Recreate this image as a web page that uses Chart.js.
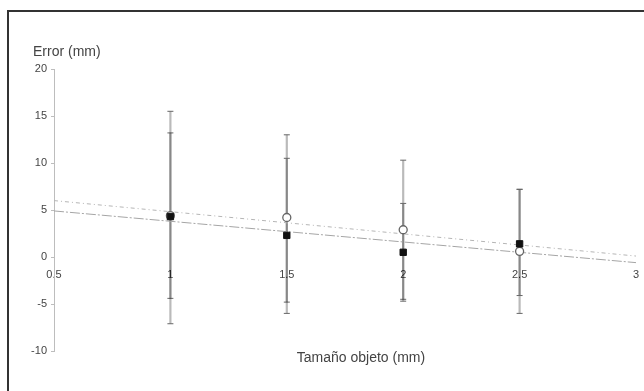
<!DOCTYPE html>
<html>
<head>
<meta charset="utf-8">
<style>
  html, body { margin: 0; padding: 0; background: #fff; }
  canvas { display: block; }
</style>
<script src="https://cdn.jsdelivr.net/npm/chart.js@4/dist/chart.umd.min.js"></script>
</head>
<body>
<canvas id="c" width="644" height="391"></canvas>
<script>
// Object size (mm) at which the error was measured
const sizes = [1, 1.5, 2, 2.5];
// Mean error (mm), two measurement series
const errFilled = [4.3, 2.3, 0.5, 1.4];
const errOpen = [4.4, 4.2, 2.9, 0.6];
// Error bar limits (mm)
const filledHi = [15.5, 10.5, 5.7, 7.2];
const filledLo = [-7.1, -6.0, -4.7, -4.1];
const openHi = [13.2, 13.0, 10.3, 7.2];
const openLo = [-4.4, -4.8, -4.5, -6.0];
// Linear trend lines, end points at x = 0.5 and x = 3
const trendX = [0.5, 3];
const trendOpen = [6.0, 0.1];
const trendFilled = [4.9, -0.6];
// Axis tick labels
const xTickLabels = ['0.5', '1', '1.5', '2', '2.5', '3'];
const yTickValues = [-10, -5, 0, 5, 10, 15, 20];

const FONT = "'Liberation Sans', Arial, sans-serif";

function points(xs, ys) {
  return xs.map((x, i) => ({ x: x, y: ys[i] }));
}
// vertical segments separated by gaps, one per size
function errorSegments(xs, hi, lo) {
  const out = [];
  xs.forEach((x, i) => {
    out.push({ x: x, y: hi[i] }, { x: x, y: lo[i] }, { x: x, y: null });
  });
  return out;
}

// outer frame and axis titles
const decor = {
  id: 'decor',
  afterDraw(chart) {
    const ctx = chart.ctx;
    ctx.save();
    ctx.strokeStyle = '#333';
    ctx.lineWidth = 2;
    ctx.beginPath();
    ctx.moveTo(8, chart.height);
    ctx.lineTo(8, 11);
    ctx.lineTo(chart.width, 11);
    ctx.stroke();

    ctx.fillStyle = '#444';
    ctx.font = '14px ' + FONT;
    ctx.textBaseline = 'middle';
    ctx.textAlign = 'left';
    ctx.fillText('Error (mm)', 33, 52);
    ctx.textAlign = 'center';
    ctx.fillText('Tamaño objeto (mm)', 361, 358);
    ctx.restore();
  }
};

new Chart(document.getElementById('c'), {
  type: 'scatter',
  data: {
    datasets: [
      {
        data: points(sizes, errFilled),
        pointStyle: 'rect',
        pointRadius: 4.5,
        pointBackgroundColor: '#111',
        pointBorderColor: '#111',
        pointBorderWidth: 1,
        showLine: false
      },
      {
        data: points(sizes, errOpen),
        pointStyle: 'circle',
        pointRadius: 4,
        pointBackgroundColor: '#fff',
        pointBorderColor: '#666',
        pointBorderWidth: 1.3,
        showLine: false
      },
      {
        data: points(trendX, trendOpen),
        showLine: true,
        borderColor: '#b5b5b5',
        borderWidth: 1,
        borderDash: [4, 3, 1, 3],
        pointRadius: 0
      },
      {
        data: points(trendX, trendFilled),
        showLine: true,
        borderColor: '#a5a5a5',
        borderWidth: 1,
        borderDash: [10, 2, 2, 2],
        pointRadius: 0
      },
      {
        data: errorSegments(sizes, filledHi, filledLo),
        showLine: true,
        spanGaps: false,
        borderColor: 'rgba(0,0,0,0.27)',
        borderWidth: 2.2,
        pointStyle: 'line',
        pointRadius: 3,
        pointBorderColor: '#666',
        pointBorderWidth: 1
      },
      {
        data: errorSegments(sizes, openHi, openLo),
        showLine: true,
        spanGaps: false,
        borderColor: 'rgba(0,0,0,0.27)',
        borderWidth: 2.2,
        pointStyle: 'line',
        pointRadius: 3,
        pointBorderColor: '#666',
        pointBorderWidth: 1
      }
    ]
  },
  options: {
    responsive: false,
    animation: false,
    events: [],
    layout: { padding: { left: 0, top: 69, right: 8, bottom: 40 } },
    plugins: {
      legend: { display: false },
      tooltip: { enabled: false },
      title: { display: false }
    },
    scales: {
      x: {
        type: 'linear',
        position: { y: 0 },
        min: 0.5,
        max: 3,
        border: { display: false },
        grid: { display: false, drawTicks: true, tickLength: 11 },
        ticks: {
          stepSize: 0.5,
          padding: 0,
          maxRotation: 0,
          color: '#444',
          font: { family: FONT, size: 11 },
          callback: (v, i) => xTickLabels[i]
        }
      },
      y: {
        type: 'linear',
        position: 'left',
        min: -10,
        max: 20,
        afterFit(scale) { scale.width = 54; },
        afterBuildTicks(scale) { scale.ticks = yTickValues.map(v => ({ value: v })); },
        border: { display: true, color: '#bdbdbd', width: 1 },
        grid: { drawOnChartArea: false, drawTicks: true, tickLength: 3, color: '#bdbdbd' },
        ticks: {
          padding: 4,
          color: '#444',
          font: { family: FONT, size: 11 }
        }
      }
    }
  },
  plugins: [decor]
});
</script>
</body>
</html>
